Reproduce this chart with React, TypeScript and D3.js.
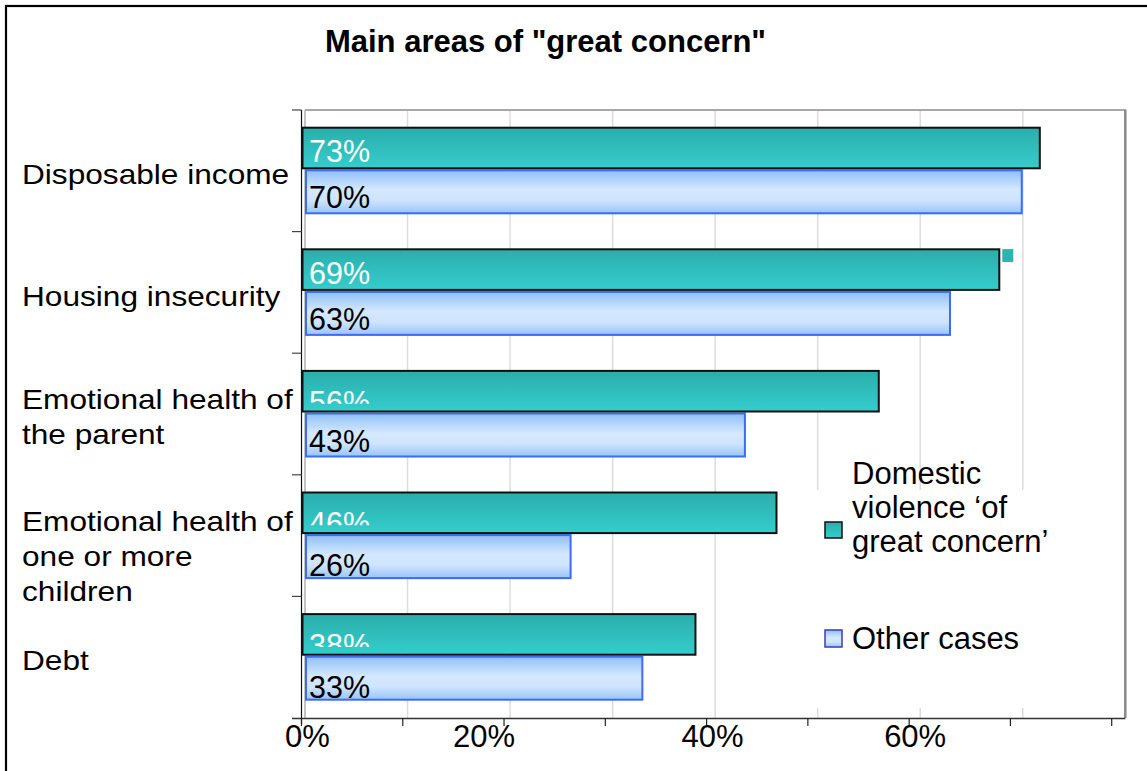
import React from "react";
import * as d3 from "d3";

const categories = [
  "Disposable income",
  "Housing insecurity",
  "Emotional health of\nthe parent",
  "Emotional health of\none or more\nchildren",
  "Debt",
];
const domesticValues = [73, 69, 57.1, 47, 39];
const domesticLabels = ["73%", "69%", "56%", "46%", "38%"];
const otherValues = [70, 63, 43, 26, 33];
const otherLabels = ["70%", "63%", "43%", "26%", "33%"];
const tickValues = [0, 10, 20, 30, 40, 50, 60, 70, 80];
const tickLabels = ["0%", "", "20%", "", "40%", "", "60%", "", ""];
const gridValues = [10, 20, 30, 40, 50, 60, 70];
const legendDomestic = ["Domestic", "violence \u2018of", "great concern\u2019"];
const legendOther = "Other cases";
const title = 'Main areas of "great concern"';

const FONT = "'Liberation Sans', Arial, Helvetica, sans-serif";

export default function App() {
  const axisX = d3.scaleLinear().domain([0, 80]).range([301.5, 1111.7]);
  const gridX = d3.scaleLinear().domain([0, 80]).range([305, 1125.3]);
  const yBand = d3.scaleBand<string>().domain(categories).range([110, 718]).padding(0);
  const plotTop = 110;
  const plotBottom = 718;
  // the original renderer placed the "20%" label noticeably left of its tick
  const labelNudge = (v: number) => (v === 20 ? -20 : 6);

  return (
    <svg
      width={1147}
      height={771}
      style={{ position: "absolute", left: 0, top: 0, background: "#fff" }}
      fontFamily={FONT}
    >
      <defs>
        <linearGradient id="tealGrad" x1="0" y1="0" x2="0" y2="1">
          <stop offset="0" stopColor="#2aaeab" />
          <stop offset="1" stopColor="#35cdcd" />
        </linearGradient>
        <linearGradient id="blueGrad" x1="0" y1="0" x2="0" y2="1">
          <stop offset="0" stopColor="#8fbff7" />
          <stop offset="0.45" stopColor="#d4e8fe" />
          <stop offset="0.7" stopColor="#cfe4fd" />
          <stop offset="1" stopColor="#98c5f8" />
        </linearGradient>
        {categories.map((c, i) => {
          const b = yBand(c)!;
          return (
            <clipPath id={`clipT${i}`} key={c}>
              <rect x={0} y={b + 16} width={1147} height={i >= 2 ? 34.5 : 60} />
            </clipPath>
          );
        })}
      </defs>

      {/* outer border */}
      <rect x={6} y={6} width={1200} height={900} fill="none" stroke="#000" strokeWidth={2.2} />

      {/* title */}
      <text x={545.5} y={52} textAnchor="middle" fontWeight="bold" fontSize={31} fill="#000">
        {title}
      </text>

      {/* gridlines */}
      {gridValues.map((v) => (
        <line key={v} x1={gridX(v)} x2={gridX(v)} y1={plotTop} y2={plotBottom} stroke="#dcdcdc" strokeWidth={1.5} />
      ))}
      {/* plot frame */}
      <line x1={305} x2={gridX(80) + 1} y1={plotTop} y2={plotTop} stroke="#a8a8a8" strokeWidth={2} />
      <line x1={gridX(80)} x2={gridX(80)} y1={plotTop} y2={plotBottom} stroke="#8a8a8a" strokeWidth={2.5} />
      <line x1={305} x2={305} y1={plotTop} y2={plotBottom} stroke="#b0b0b0" strokeWidth={1.5} />

      {/* legend background */}
      <rect x={812} y={490} width={280} height={218} fill="#fff" />

      {/* bars */}
      {categories.map((c, i) => {
        const b = yBand(c)!;
        const ty = b + 17.7;
        const th = 40.6;
        const by = b + 60.3;
        const bh = 43;
        return (
          <g key={c}>
            <rect
              x={gridX(0) + 1}
              y={by}
              width={gridX(otherValues[i]) - gridX(0) - 2}
              height={bh}
              fill="url(#blueGrad)"
              stroke="#3a6cf5"
              strokeWidth={2}
            />
            <text x={309} y={by + bh - (i >= 3 ? 2 : 5)} fontSize={30.5} fill="#000">
              {otherLabels[i]}
            </text>
            <rect
              x={axisX(0) + 1}
              y={ty}
              width={axisX(domesticValues[i]) - axisX(0) - 2}
              height={th}
              fill="url(#tealGrad)"
              stroke="#111"
              strokeWidth={2}
            />
            <text
              x={309}
              y={i >= 2 ? ty + th + 1 : ty + th - 6}
              fontSize={30.5}
              fill="#fff"
              clipPath={`url(#clipT${i})`}
            >
              {domesticLabels[i]}
            </text>
          </g>
        );
      })}

      {/* small teal artifact near housing bar */}
      <rect x={axisX(domesticValues[1]) + 2} y={yBand(categories[1])! + 17.5} width={11} height={13} fill="#2eb4b0" />

      {/* y axis */}
      <line x1={301.5} x2={301.5} y1={plotTop} y2={724} stroke="#111" strokeWidth={1.2} />
      {categories.map((c) => (
        <line key={c} x1={292} x2={301.5} y1={yBand(c)!} y2={yBand(c)!} stroke="#444" strokeWidth={1.2} />
      ))}

      {/* x axis */}
      <line x1={292} x2={gridX(80)} y1={718.5} y2={718.5} stroke="#333" strokeWidth={1.5} />
      {tickValues.map((v, i) => (
        <g key={v}>
          <line x1={axisX(v)} x2={axisX(v)} y1={718} y2={726} stroke="#222" strokeWidth={1.2} />
          {tickLabels[i] && (
            <text x={axisX(v) + labelNudge(v)} y={747} textAnchor="middle" fontSize={31} fill="#000">
              {tickLabels[i]}
            </text>
          )}
        </g>
      ))}

      {/* category labels */}
      {categories.map((c) => {
        const lines = c.split("\n");
        const b = yBand(c)!;
        const first = b + (lines.length === 1 ? 74 : 56);
        return (
          <g key={c} transform={`translate(22,0) scale(1.11,1)`}>
            {lines.map((l, j) => (
              <text key={j} x={0} y={first + j * 35} fontSize={28.5} fill="#000">
                {l}
              </text>
            ))}
          </g>
        );
      })}

      {/* legend */}
      <rect x={825} y={522} width={17} height={16} fill="url(#tealGrad)" stroke="#111" strokeWidth={1.5} />
      {legendDomestic.map((l, j) => (
        <text key={j} x={852} y={483.5 + j * 34.3} fontSize={31} fill="#000">
          {l}
        </text>
      ))}
      <rect x={825} y={630} width={17} height={17} fill="url(#blueGrad)" stroke="#3c3cb4" strokeWidth={1.5} />
      <text x={852} y={648.5} fontSize={31} fill="#000">
        {legendOther}
      </text>
    </svg>
  );
}
